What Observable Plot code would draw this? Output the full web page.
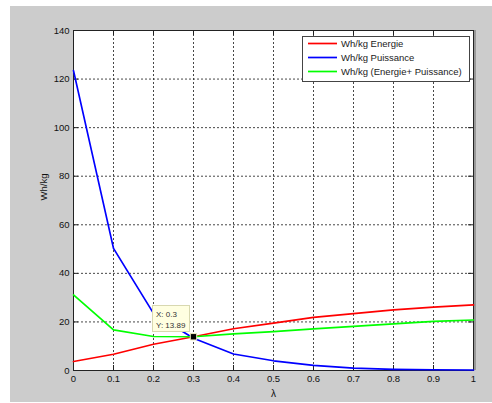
<!DOCTYPE html>
<html><head><meta charset="utf-8">
<script src="https://cdn.jsdelivr.net/npm/d3@7"></script>
<script src="https://cdn.jsdelivr.net/npm/@observablehq/plot@0.6"></script>
<style>
html,body{margin:0;padding:0;background:#fff;font-family:"Liberation Sans",Arial,sans-serif}
#wrap{position:relative;width:492px;height:403px;overflow:hidden}
#bg{position:absolute;left:10px;top:6px;width:482px;height:396px;background:#cccccc}
#chart{position:absolute;left:0;top:0}
#legend{position:absolute;left:302px;top:36px}
#tip{position:absolute;box-sizing:border-box;width:38px;height:27px;background:#ffffe1;border:1px solid #d8d8b0;font-size:8px;color:#333;padding:3px 0 0 3px;line-height:11px}
</style></head>
<body>
<div id="wrap"><div id="bg"></div><div id="chart"></div><div id="legend"></div><div id="tip"></div></div>
<script>
const lambda = [0, 0.1, 0.2, 0.3, 0.4, 0.5, 0.6, 0.7, 0.8, 0.9, 1];
const energie = [3.7, 6.7, 10.8, 13.89, 17.2, 19.5, 21.9, 23.4, 25.0, 26.1, 27.0];
const puissance = [123.5, 50.3, 23.5, 13.3, 6.8, 4.0, 2.1, 1.0, 0.5, 0.3, 0.2];
const combine = [31.1, 16.7, 14.0, 13.9, 15.1, 16.0, 17.1, 18.2, 19.2, 20.2, 20.8];
const seriesNames = ["Wh/kg Energie", "Wh/kg Puissance", "Wh/kg (Energie+ Puissance)"];
const seriesColors = ["#ff0000", "#0000ff", "#00ff00"];
const xTicks = [0, 0.1, 0.2, 0.3, 0.4, 0.5, 0.6, 0.7, 0.8, 0.9, 1];
const yTicks = [0, 20, 40, 60, 80, 100, 120, 140];
const tipPoint = {x: 0.3, y: 13.89};

const series = [energie, puissance, combine];
const rows = [];
series.forEach((vals, si) => vals.forEach((v, i) => rows.push({s: seriesNames[si], x: lambda[i], y: v})));

const W = 492, H = 403, mL = 73, mR = 19, mT = 30, mB = 33;
const pw = W - mL - mR, ph = H - mT - mB;

const chart = Plot.plot({
  width: W, height: H, marginLeft: mL, marginRight: mR, marginTop: mT, marginBottom: mB,
  style: {background: "transparent", fontFamily: "'Liberation Sans', Arial, sans-serif", fontSize: "9.5px", color: "#111"},
  x: {domain: [0, 1], ticks: xTicks, tickFormat: d => String(d)},
  y: {domain: [0, 140], ticks: yTicks},
  color: {domain: seriesNames, range: seriesColors},
  marks: [
    Plot.frame({fill: "white", stroke: null}),
    Plot.gridX(xTicks, {stroke: "#333", strokeOpacity: 0.9, strokeDasharray: "2,2"}),
    Plot.gridY(yTicks, {stroke: "#333", strokeOpacity: 0.9, strokeDasharray: "2,2"}),
    Plot.tickX(xTicks, {x: d => d, insetTop: ph - 5, stroke: "#222"}),
    Plot.tickX(xTicks, {x: d => d, insetBottom: ph - 5, stroke: "#222"}),
    Plot.tickY(yTicks, {y: d => d, insetRight: pw - 5, stroke: "#222"}),
    Plot.tickY(yTicks, {y: d => d, insetLeft: pw - 5, stroke: "#222"}),
    Plot.frame({stroke: "#222"}),
    Plot.ruleX([1], {stroke: "#999", strokeWidth: 2, dx: 1.5}),
    Plot.axisX(xTicks, {tickSize: 0, tickPadding: 5, label: null, tickFormat: d => String(d)}),
    Plot.axisY(yTicks, {tickSize: 0, tickPadding: 4, label: null}),
    Plot.text(["Wh/kg"], {frameAnchor: "left", dx: -30, rotate: -90, fontSize: 9.5}),
    Plot.text(["λ"], {frameAnchor: "bottom", dy: 23, lineAnchor: "middle", fontSize: 10}),
    Plot.line(rows, {x: "x", y: "y", z: "s", stroke: "s", strokeWidth: 1.7}),
    Plot.dot([tipPoint], {x: "x", y: "y", symbol: "square", r: 3.6, fill: "black", stroke: "#f0ecc0", strokeWidth: 1})
  ]
});
document.getElementById("chart").appendChild(chart);

// datatip placed through the plot's scales
const px = chart.scale("x").apply(tipPoint.x), py = chart.scale("y").apply(tipPoint.y);
const tip = document.getElementById("tip");
tip.style.left = (px - 41) + "px";
tip.style.top = (py - 31) + "px";
tip.innerHTML = "X: " + tipPoint.x + "<br>Y: " + tipPoint.y;

// legend
const lg = d3.select("#legend").append("svg").attr("width", 170).attr("height", 47);
lg.append("rect").attr("x", 0.5).attr("y", 0.5).attr("width", 167).attr("height", 45)
  .attr("fill", "white").attr("stroke", "#444");
seriesNames.forEach((n, i) => {
  const cy = 7.5 + i * 14;
  lg.append("line").attr("x1", 6).attr("x2", 35).attr("y1", cy).attr("y2", cy)
    .attr("stroke", seriesColors[i]).attr("stroke-width", 1.7);
  lg.append("text").attr("x", 39).attr("y", cy).attr("dy", "0.35em")
    .attr("font-size", "9.5px").attr("fill", "#222")
    .attr("font-family", "'Liberation Sans', Arial, sans-serif").text(n);
});
</script>
</body></html>
